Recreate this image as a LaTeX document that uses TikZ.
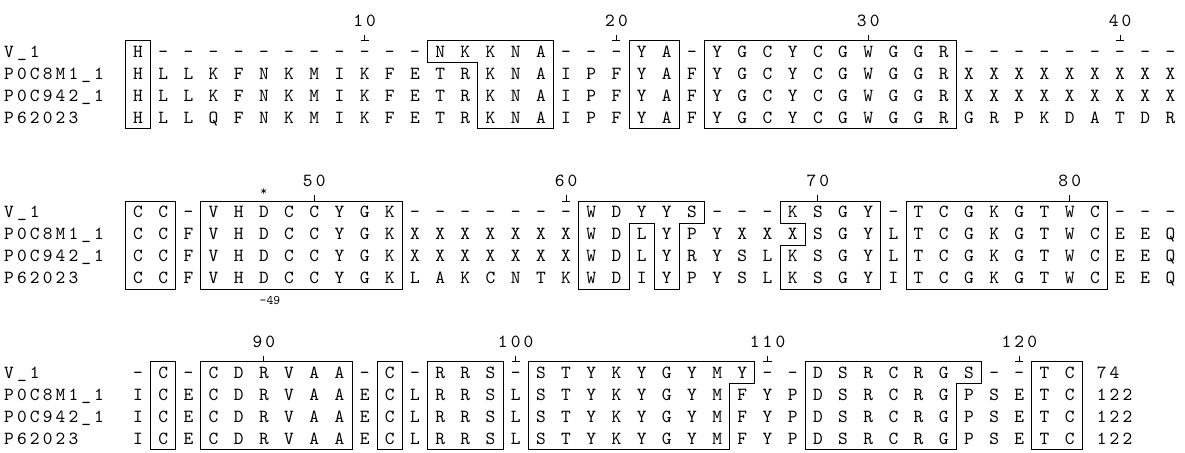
\documentclass[tikz,border=0pt]{standalone}
\usepackage{fontspec}
\usepackage{tikz}
\newfontfamily\seqfont{lmmono10-regular.otf}
\newfontfamily\lblfont{lmmono10-regular.otf}[LetterSpace=17]

% one row of residues: block, row, residues
\newcommand{\seqrow}[3]{%
  \foreach \resid [count=\c] in {#3}
    \node[res] (b#1r#2c\c) at (\c,#2) {\resid};}
% sequence names of a block
\newcommand{\seqnames}[1]{%
  \node[seqname] (b#1n1) at (-4.32,1) {V\_1};
  \node[seqname] (b#1n2) at (-4.32,2) {P0C8M1\_1};
  \node[seqname] (b#1n3) at (-4.32,3) {P0C942\_1};
  \node[seqname] (b#1n4) at (-4.32,4) {P62023};}
% column number with its tick: block, local column, number
\newcommand{\colmark}[3]{%
  \node[colnum] (b#1m#2) at (#2,-0.41) {#3};
  \draw[tick] (#2,0.5) -- (#2,0.23) (#2-0.16,0.5) -- (#2+0.16,0.5);}

\begin{document}
\begin{tikzpicture}[
    x=25.18pt, y=-22pt,
    res/.style={font=\seqfont\fontsize{18.5}{20}\selectfont, inner sep=0pt, anchor=base, yshift=-5.6pt},
    seqname/.style={font=\lblfont\fontsize{18.5}{20}\selectfont, inner sep=0pt, anchor=base west, yshift=-5.6pt},
    colnum/.style={font=\lblfont\fontsize{18.5}{20}\selectfont, inner sep=0pt, anchor=base, yshift=-5.6pt},
    endnum/.style={font=\lblfont\fontsize{18.5}{20}\selectfont, inner sep=0pt, anchor=base west, yshift=-5.6pt},
    smalllbl/.style={font=\seqfont\fontsize{13}{13}\selectfont, inner sep=0pt},
    seqbox/.style={draw, line width=1pt, line join=miter},
    tick/.style={line width=0.9pt}
]
    \useasboundingbox (-4.4806,0) rectangle (42.58,20.59);

    % Block 1: columns 1-42
    \begin{scope}[shift={(0,1.35)}]
        \seqnames{1}
        \seqrow{1}{1}{H,-,-,-,-,-,-,-,-,-,-,-,N,K,K,N,A,-,-,-,Y,A,-,Y,G,C,Y,C,G,W,G,G,R,-,-,-,-,-,-,-,-,-}
        \seqrow{1}{2}{H,L,L,K,F,N,K,M,I,K,F,E,T,R,K,N,A,I,P,F,Y,A,F,Y,G,C,Y,C,G,W,G,G,R,X,X,X,X,X,X,X,X,X}
        \seqrow{1}{3}{H,L,L,K,F,N,K,M,I,K,F,E,T,R,K,N,A,I,P,F,Y,A,F,Y,G,C,Y,C,G,W,G,G,R,X,X,X,X,X,X,X,X,X}
        \seqrow{1}{4}{H,L,L,Q,F,N,K,M,I,K,F,E,T,R,K,N,A,I,P,F,Y,A,F,Y,G,C,Y,C,G,W,G,G,R,G,R,P,K,D,A,T,D,R}
        \colmark{1}{10}{10}
        \colmark{1}{20}{20}
        \colmark{1}{30}{30}
        \colmark{1}{40}{40}
        % Conserved boxes
        \draw[seqbox] (0.5,0.5) rectangle (1.5,4.5);
        \draw[seqbox] (12.5,0.5) -- (17.5,0.5) -- (17.5,4.5) -- (14.5,4.5) -- (14.5,1.5) -- (12.5,1.5) -- cycle;
        \draw[seqbox] (20.5,0.5) rectangle (22.5,4.5);
        \draw[seqbox] (23.5,0.5) rectangle (33.5,4.5);
    \end{scope}

    % Block 2: columns 43-84
    \begin{scope}[shift={(0,8.645)}]
        \seqnames{2}
        \seqrow{2}{1}{C,C,-,V,H,D,C,C,Y,G,K,-,-,-,-,-,-,-,W,D,Y,Y,S,-,-,-,K,S,G,Y,-,T,C,G,K,G,T,W,C,-,-,-}
        \seqrow{2}{2}{C,C,F,V,H,D,C,C,Y,G,K,X,X,X,X,X,X,X,W,D,L,Y,P,Y,X,X,X,S,G,Y,L,T,C,G,K,G,T,W,C,E,E,Q}
        \seqrow{2}{3}{C,C,F,V,H,D,C,C,Y,G,K,X,X,X,X,X,X,X,W,D,L,Y,R,Y,S,L,K,S,G,Y,L,T,C,G,K,G,T,W,C,E,E,Q}
        \seqrow{2}{4}{C,C,F,V,H,D,C,C,Y,G,K,L,A,K,C,N,T,K,W,D,I,Y,P,Y,S,L,K,S,G,Y,I,T,C,G,K,G,T,W,C,E,E,Q}
        \colmark{2}{8}{50}
        \colmark{2}{18}{60}
        \colmark{2}{28}{70}
        \colmark{2}{38}{80}
        \node[smalllbl] (b2star) at (6,0.07) {*};
        \node[smalllbl] (b2low) at (6.24,5.0) {-49};
        % Conserved boxes
        \draw[seqbox] (0.5,0.5) rectangle (2.5,4.5);
        \draw[seqbox] (3.5,0.5) rectangle (11.5,4.5);
        \draw[seqbox] (18.5,0.5) -- (23.5,0.5) -- (23.5,1.5) -- (22.5,1.5) -- (22.5,4.5) -- (21.5,4.5)
            -- (21.5,1.5) -- (20.5,1.5) -- (20.5,4.5) -- (18.5,4.5) -- cycle;
        \draw[seqbox] (26.5,0.5) -- (30.5,0.5) -- (30.5,4.5) -- (26.5,4.5) -- (26.5,2.5) -- (27.5,2.5)
            -- (27.5,1.5) -- (26.5,1.5) -- cycle;
        \draw[seqbox] (31.5,0.5) rectangle (39.5,4.5);
    \end{scope}

    % Block 3: columns 85-122
    \begin{scope}[shift={(0,15.94)}]
        \seqnames{3}
        \seqrow{3}{1}{-,C,-,C,D,R,V,A,A,-,C,-,R,R,S,-,S,T,Y,K,Y,G,Y,M,Y,-,-,D,S,R,C,R,G,S,-,-,T,C}
        \seqrow{3}{2}{I,C,E,C,D,R,V,A,A,E,C,L,R,R,S,L,S,T,Y,K,Y,G,Y,M,F,Y,P,D,S,R,C,R,G,P,S,E,T,C}
        \seqrow{3}{3}{I,C,E,C,D,R,V,A,A,E,C,L,R,R,S,L,S,T,Y,K,Y,G,Y,M,F,Y,P,D,S,R,C,R,G,P,S,E,T,C}
        \seqrow{3}{4}{I,C,E,C,D,R,V,A,A,E,C,L,R,R,S,L,S,T,Y,K,Y,G,Y,M,F,Y,P,D,S,R,C,R,G,P,S,E,T,C}
        \colmark{3}{6}{90}
        \colmark{3}{16}{100}
        \colmark{3}{26}{110}
        \colmark{3}{36}{120}
        \node[endnum] (b3e1) at (39.07,1) {74};
        \node[endnum] (b3e2) at (39.07,2) {122};
        \node[endnum] (b3e3) at (39.07,3) {122};
        \node[endnum] (b3e4) at (39.07,4) {122};
        % Conserved boxes
        \draw[seqbox] (1.5,0.5) rectangle (2.5,4.5);
        \draw[seqbox] (3.5,0.5) rectangle (9.5,4.5);
        \draw[seqbox] (10.5,0.5) rectangle (11.5,4.5);
        \draw[seqbox] (12.5,0.5) rectangle (15.5,4.5);
        \draw[seqbox] (16.5,0.5) -- (25.5,0.5) -- (25.5,1.5) -- (24.5,1.5) -- (24.5,4.5) -- (16.5,4.5) -- cycle;
        \draw[seqbox] (27.5,0.5) -- (34.5,0.5) -- (34.5,1.5) -- (33.5,1.5) -- (33.5,4.5) -- (27.5,4.5) -- cycle;
        \draw[seqbox] (36.5,0.5) rectangle (38.5,4.5);
    \end{scope}
\end{tikzpicture}
\end{document}
